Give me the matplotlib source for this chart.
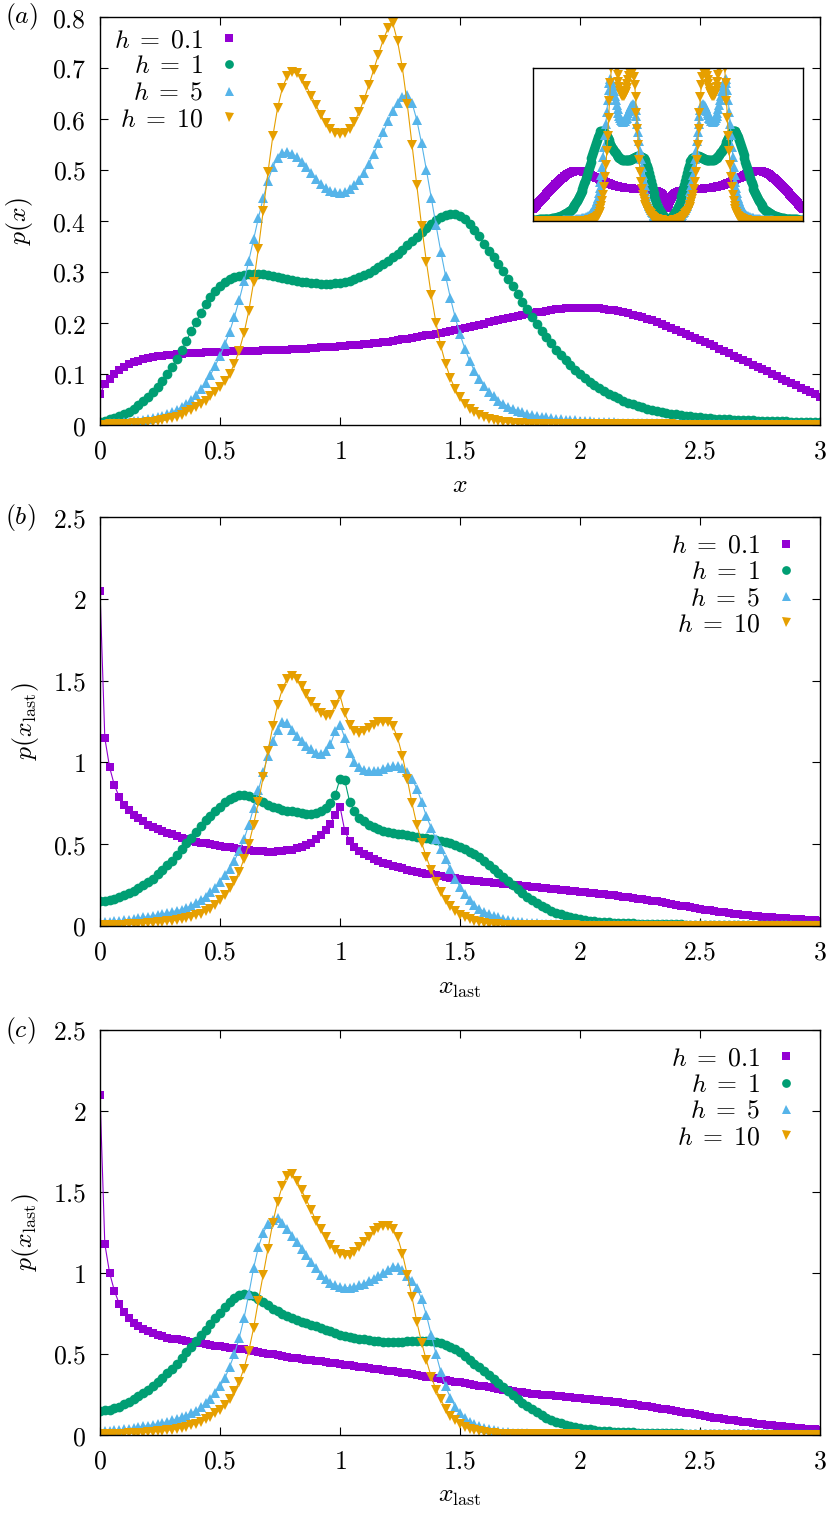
import numpy as np
import matplotlib
matplotlib.use('Agg')
import matplotlib.pyplot as plt
from matplotlib.lines import Line2D
from matplotlib.ticker import FuncFormatter, MultipleLocator

plt.rcParams['mathtext.fontset'] = 'cm'
plt.rcParams['font.family'] = 'DejaVu Serif'

# common x grid of the data files (step 0.02)
x = np.round(np.arange(151) * 0.02, 2)

labels = [r'$h\;=\;0.1$', r'$h\;=\;1$', r'$h\;=\;5$', r'$h\;=\;10$']
colors = ['#9400d3', '#009e73', '#56b4e9', '#e69f00']
markers = ['s', 'o', '^', 'v']
msizes = [6.3, 7.0, 7.2, 7.2]

# ---- panel (a): p(x)
pa_01 = [0.060, 0.080, 0.090, 0.100, 0.108, 0.114, 0.119, 0.123, 0.126, 0.129,
         0.131, 0.133, 0.135, 0.136, 0.137, 0.138, 0.139, 0.140, 0.141, 0.141,
         0.142, 0.142, 0.143, 0.143, 0.144, 0.144, 0.144, 0.145, 0.145, 0.145,
         0.145, 0.146, 0.146, 0.146, 0.147, 0.147, 0.147, 0.148, 0.148, 0.148,
         0.149, 0.149, 0.150, 0.150, 0.151, 0.151, 0.152, 0.152, 0.153, 0.153,
         0.154, 0.155, 0.156, 0.156, 0.157, 0.158, 0.159, 0.160, 0.161, 0.162,
         0.163, 0.165, 0.166, 0.168, 0.169, 0.171, 0.172, 0.174, 0.176, 0.177,
         0.179, 0.181, 0.183, 0.185, 0.187, 0.189, 0.191, 0.193, 0.195, 0.197,
         0.199, 0.201, 0.203, 0.205, 0.207, 0.209, 0.211, 0.213, 0.215, 0.217,
         0.219, 0.221, 0.222, 0.224, 0.225, 0.227, 0.228, 0.229, 0.229, 0.230,
         0.230, 0.230, 0.230, 0.229, 0.229, 0.228, 0.226, 0.225, 0.223, 0.221,
         0.219, 0.216, 0.214, 0.211, 0.208, 0.205, 0.202, 0.198, 0.195, 0.191,
         0.187, 0.183, 0.179, 0.175, 0.171, 0.167, 0.163, 0.158, 0.154, 0.150,
         0.145, 0.141, 0.136, 0.132, 0.127, 0.123, 0.118, 0.114, 0.109, 0.105,
         0.100, 0.096, 0.091, 0.087, 0.082, 0.078, 0.073, 0.069, 0.064, 0.060,
         0.055]
pa_1 = [0.005, 0.008, 0.011, 0.014, 0.017, 0.021, 0.026, 0.032, 0.039, 0.047,
        0.055, 0.064, 0.075, 0.087, 0.100, 0.114, 0.130, 0.147, 0.165, 0.184,
        0.202, 0.220, 0.237, 0.251, 0.263, 0.273, 0.280, 0.286, 0.290, 0.293,
        0.295, 0.296, 0.297, 0.297, 0.296, 0.295, 0.293, 0.291, 0.289, 0.287,
        0.285, 0.283, 0.281, 0.280, 0.279, 0.278, 0.277, 0.277, 0.277, 0.278,
        0.279, 0.281, 0.283, 0.286, 0.290, 0.294, 0.299, 0.304, 0.310, 0.316,
        0.322, 0.329, 0.336, 0.344, 0.352, 0.360, 0.369, 0.378, 0.387, 0.395,
        0.402, 0.408, 0.412, 0.414, 0.413, 0.410, 0.404, 0.395, 0.383, 0.370,
        0.355, 0.342, 0.329, 0.315, 0.301, 0.287, 0.272, 0.257, 0.242, 0.227,
        0.212, 0.198, 0.185, 0.172, 0.160, 0.148, 0.137, 0.127, 0.117, 0.108,
        0.100, 0.092, 0.085, 0.078, 0.072, 0.066, 0.061, 0.056, 0.052, 0.048,
        0.044, 0.041, 0.038, 0.035, 0.032, 0.030, 0.028, 0.026, 0.024, 0.022,
        0.021, 0.019, 0.018, 0.017, 0.016, 0.015, 0.014, 0.013, 0.012, 0.012,
        0.011, 0.011, 0.010, 0.010, 0.009, 0.009, 0.009, 0.008, 0.008, 0.008,
        0.007, 0.007, 0.007, 0.007, 0.006, 0.006, 0.006, 0.006, 0.006, 0.005,
        0.005]
pa_5 = [0.002, 0.002, 0.003, 0.003, 0.004, 0.005, 0.006, 0.007, 0.008, 0.010,
        0.011, 0.013, 0.015, 0.018, 0.021, 0.025, 0.029, 0.035, 0.041, 0.049,
        0.059, 0.070, 0.083, 0.098, 0.116, 0.136, 0.158, 0.183, 0.212, 0.245,
        0.282, 0.322, 0.364, 0.406, 0.445, 0.479, 0.506, 0.524, 0.533, 0.535,
        0.532, 0.525, 0.516, 0.505, 0.494, 0.483, 0.473, 0.465, 0.459, 0.456,
        0.455, 0.457, 0.462, 0.470, 0.481, 0.495, 0.512, 0.531, 0.552, 0.574,
        0.596, 0.616, 0.632, 0.644, 0.648, 0.632, 0.598, 0.552, 0.500, 0.446,
        0.392, 0.340, 0.292, 0.249, 0.211, 0.178, 0.150, 0.126, 0.106, 0.090,
        0.076, 0.065, 0.056, 0.048, 0.042, 0.036, 0.032, 0.028, 0.025, 0.022,
        0.020, 0.018, 0.016, 0.015, 0.013, 0.012, 0.011, 0.010, 0.009, 0.009,
        0.008, 0.007, 0.007, 0.006, 0.006, 0.005, 0.005, 0.005, 0.004, 0.004,
        0.004, 0.004, 0.003, 0.003, 0.003, 0.003, 0.003, 0.003, 0.002, 0.002,
        0.002, 0.002, 0.002, 0.002, 0.002, 0.002, 0.002, 0.002, 0.002, 0.002,
        0.002, 0.002, 0.002, 0.002, 0.002, 0.001, 0.001, 0.001, 0.001, 0.001,
        0.001, 0.001, 0.001, 0.001, 0.001, 0.001, 0.001, 0.001, 0.001, 0.001,
        0.001]
pa_10 = [0.000, 0.000, 0.001, 0.001, 0.001, 0.002, 0.002, 0.003, 0.003, 0.004,
         0.005, 0.006, 0.007, 0.009, 0.011, 0.013, 0.016, 0.020, 0.025, 0.030,
         0.035, 0.041, 0.048, 0.056, 0.065, 0.075, 0.086, 0.100, 0.120, 0.146,
         0.180, 0.224, 0.280, 0.346, 0.420, 0.496, 0.566, 0.622, 0.661, 0.684,
         0.692, 0.690, 0.679, 0.664, 0.646, 0.627, 0.608, 0.592, 0.580, 0.573,
         0.570, 0.572, 0.580, 0.594, 0.614, 0.638, 0.666, 0.696, 0.726, 0.755,
         0.778, 0.788, 0.752, 0.700, 0.630, 0.550, 0.470, 0.390, 0.320, 0.255,
         0.200, 0.155, 0.120, 0.092, 0.070, 0.054, 0.042, 0.032, 0.025, 0.020,
         0.015, 0.012, 0.010, 0.008, 0.006, 0.005, 0.004, 0.003, 0.003, 0.002,
         0.002, 0.002, 0.002, 0.002, 0.002, 0.002, 0.002, 0.002, 0.002, 0.002,
         0.001, 0.001, 0.001, 0.001, 0.001, 0.001, 0.001, 0.001, 0.001, 0.001,
         0.001, 0.001, 0.001, 0.001, 0.001, 0.001, 0.001, 0.001, 0.001, 0.001,
         0.000, 0.000, 0.000, 0.000, 0.000, 0.000, 0.000, 0.000, 0.000, 0.000,
         0.000, 0.000, 0.000, 0.000, 0.000, 0.000, 0.000, 0.000, 0.000, 0.000,
         0.000, 0.000, 0.000, 0.000, 0.000, 0.000, 0.000, 0.000, 0.000, 0.000,
         0.000]

# ---- panel (b): p(x_last)
pb_01 = [2.05, 1.15, 0.97, 0.86, 0.79, 0.74, 0.71, 0.68, 0.66, 0.64,
         0.62, 0.605, 0.59, 0.58, 0.57, 0.56, 0.55, 0.54, 0.53, 0.52,
         0.515, 0.51, 0.505, 0.50, 0.495, 0.49, 0.485, 0.48, 0.475, 0.47,
         0.467, 0.464, 0.461, 0.458, 0.456, 0.455, 0.455, 0.456, 0.458, 0.462,
         0.467, 0.474, 0.483, 0.495, 0.51, 0.53, 0.555, 0.585, 0.625, 0.68,
         0.73, 0.58, 0.52, 0.485, 0.46, 0.44, 0.425, 0.41, 0.398, 0.387,
         0.377, 0.368, 0.36, 0.352, 0.345, 0.338, 0.332, 0.326, 0.32, 0.315,
         0.31, 0.305, 0.30, 0.296, 0.292, 0.288, 0.284, 0.28, 0.276, 0.273,
         0.27, 0.267, 0.264, 0.261, 0.258, 0.255, 0.252, 0.249, 0.246, 0.243,
         0.24, 0.237, 0.234, 0.231, 0.228, 0.225, 0.222, 0.219, 0.216, 0.213,
         0.21, 0.207, 0.204, 0.201, 0.198, 0.195, 0.192, 0.188, 0.184, 0.18,
         0.176, 0.172, 0.168, 0.164, 0.159, 0.155, 0.15, 0.145, 0.14, 0.135,
         0.13, 0.125, 0.12, 0.115, 0.11, 0.105, 0.10, 0.096, 0.092, 0.088,
         0.084, 0.08, 0.076, 0.073, 0.07, 0.067, 0.064, 0.061, 0.058, 0.055,
         0.052, 0.05, 0.048, 0.046, 0.044, 0.042, 0.04, 0.038, 0.036, 0.034,
         0.032]
pb_1 = [0.15, 0.152, 0.157, 0.165, 0.175, 0.187, 0.20, 0.215, 0.23, 0.25,
        0.27, 0.29, 0.315, 0.34, 0.37, 0.40, 0.435, 0.47, 0.505, 0.54,
        0.575, 0.61, 0.645, 0.675, 0.705, 0.73, 0.755, 0.775, 0.79, 0.80,
        0.80, 0.795, 0.785, 0.77, 0.755, 0.74, 0.73, 0.72, 0.71, 0.705,
        0.70, 0.695, 0.69, 0.685, 0.685, 0.69, 0.70, 0.72, 0.75, 0.80,
        0.90, 0.89, 0.76, 0.70, 0.66, 0.64, 0.62, 0.605, 0.59, 0.58,
        0.575, 0.57, 0.565, 0.56, 0.555, 0.55, 0.545, 0.54, 0.535, 0.53,
        0.525, 0.52, 0.515, 0.508, 0.498, 0.485, 0.47, 0.455, 0.44, 0.42,
        0.40, 0.375, 0.35, 0.325, 0.30, 0.275, 0.25, 0.225, 0.20, 0.18,
        0.16, 0.14, 0.122, 0.107, 0.094, 0.082, 0.072, 0.063, 0.055, 0.048,
        0.042, 0.037, 0.033, 0.030, 0.027, 0.025, 0.023, 0.021, 0.019, 0.018,
        0.017, 0.016, 0.015, 0.014, 0.013, 0.012, 0.012, 0.011, 0.011, 0.010,
        0.010, 0.010, 0.009, 0.009, 0.009, 0.008, 0.008, 0.008, 0.008, 0.007,
        0.007, 0.007, 0.007, 0.007, 0.007, 0.006, 0.006, 0.006, 0.006, 0.006,
        0.006, 0.006, 0.006, 0.006, 0.006, 0.005, 0.005, 0.005, 0.005, 0.005,
        0.005]
pb_5 = [0.02, 0.022, 0.025, 0.028, 0.031, 0.035, 0.039, 0.043, 0.047, 0.052,
        0.057, 0.062, 0.068, 0.074, 0.08, 0.087, 0.094, 0.10, 0.11, 0.125,
        0.14, 0.16, 0.18, 0.205, 0.235, 0.27, 0.31, 0.35, 0.40, 0.46,
        0.53, 0.62, 0.72, 0.83, 0.94, 1.04, 1.13, 1.20, 1.245, 1.24,
        1.20, 1.16, 1.13, 1.10, 1.08, 1.06, 1.05, 1.07, 1.11, 1.19,
        1.23, 1.15, 1.06, 1.00, 0.97, 0.955, 0.945, 0.945, 0.95, 0.96,
        0.97, 0.975, 0.975, 0.965, 0.94, 0.90, 0.84, 0.76, 0.67, 0.60,
        0.53, 0.47, 0.41, 0.35, 0.29, 0.24, 0.195, 0.16, 0.13, 0.105,
        0.088, 0.074, 0.062, 0.052, 0.044, 0.037, 0.032, 0.027, 0.023, 0.02,
        0.018, 0.016, 0.014, 0.013, 0.012, 0.011, 0.010, 0.009, 0.009, 0.008,
        0.008, 0.007, 0.007, 0.007, 0.006, 0.006, 0.006, 0.006, 0.005, 0.005,
        0.005, 0.005, 0.005, 0.005, 0.005, 0.005, 0.005, 0.005, 0.005, 0.005,
        0.005, 0.005, 0.005, 0.005, 0.005, 0.004, 0.004, 0.004, 0.004, 0.004,
        0.004, 0.004, 0.004, 0.004, 0.004, 0.004, 0.004, 0.004, 0.004, 0.004,
        0.004, 0.004, 0.004, 0.004, 0.004, 0.003, 0.003, 0.003, 0.003, 0.003,
        0.003]
pb_10 = [0.005, 0.005, 0.006, 0.007, 0.008, 0.009, 0.010, 0.011, 0.013, 0.015,
         0.017, 0.019, 0.022, 0.025, 0.029, 0.033, 0.037, 0.042, 0.048, 0.056,
         0.065, 0.076, 0.09, 0.105, 0.13, 0.16, 0.19, 0.23, 0.275, 0.33,
         0.41, 0.50, 0.62, 0.76, 0.91, 1.07, 1.22, 1.35, 1.45, 1.51,
         1.53, 1.51, 1.47, 1.42, 1.37, 1.33, 1.30, 1.285, 1.29, 1.35,
         1.41, 1.30, 1.23, 1.19, 1.18, 1.19, 1.21, 1.23, 1.245, 1.25,
         1.245, 1.225, 1.15, 1.04, 0.90, 0.75, 0.62, 0.51, 0.42, 0.34,
         0.27, 0.21, 0.16, 0.12, 0.09, 0.068, 0.052, 0.04, 0.031, 0.024,
         0.019, 0.015, 0.012, 0.010, 0.008, 0.007, 0.006, 0.005, 0.005, 0.004,
         0.004, 0.004, 0.004, 0.004, 0.004, 0.004, 0.004, 0.004, 0.004, 0.004,
         0.003, 0.003, 0.003, 0.003, 0.003, 0.003, 0.003, 0.003, 0.003, 0.003,
         0.003, 0.003, 0.003, 0.003, 0.003, 0.003, 0.003, 0.003, 0.003, 0.003,
         0.002, 0.002, 0.002, 0.002, 0.002, 0.002, 0.002, 0.002, 0.002, 0.002,
         0.002, 0.002, 0.002, 0.002, 0.002, 0.002, 0.002, 0.002, 0.002, 0.002,
         0.002, 0.002, 0.002, 0.002, 0.002, 0.002, 0.002, 0.002, 0.002, 0.002,
         0.002]

# ---- panel (c): p(x_last)
pc_01 = [2.10, 1.18, 1.00, 0.89, 0.81, 0.76, 0.72, 0.69, 0.67, 0.655,
         0.64, 0.63, 0.62, 0.61, 0.60, 0.595, 0.59, 0.585, 0.58, 0.575,
         0.57, 0.565, 0.56, 0.555, 0.55, 0.547, 0.544, 0.54, 0.536, 0.532,
         0.528, 0.523, 0.518, 0.513, 0.508, 0.503, 0.498, 0.493, 0.488, 0.483,
         0.478, 0.474, 0.47, 0.466, 0.462, 0.458, 0.454, 0.45, 0.446, 0.442,
         0.438, 0.434, 0.43, 0.426, 0.422, 0.418, 0.414, 0.41, 0.406, 0.402,
         0.398, 0.394, 0.39, 0.385, 0.38, 0.375, 0.37, 0.365, 0.36, 0.355,
         0.35, 0.345, 0.34, 0.335, 0.33, 0.325, 0.32, 0.315, 0.31, 0.305,
         0.30, 0.295, 0.29, 0.285, 0.28, 0.276, 0.272, 0.268, 0.264, 0.26,
         0.256, 0.253, 0.25, 0.247, 0.244, 0.241, 0.238, 0.235, 0.232, 0.229,
         0.226, 0.223, 0.22, 0.217, 0.214, 0.211, 0.208, 0.205, 0.201, 0.197,
         0.193, 0.189, 0.185, 0.181, 0.177, 0.173, 0.168, 0.163, 0.158, 0.153,
         0.148, 0.143, 0.138, 0.133, 0.128, 0.123, 0.118, 0.113, 0.108, 0.103,
         0.098, 0.094, 0.09, 0.086, 0.082, 0.078, 0.074, 0.07, 0.067, 0.064,
         0.061, 0.058, 0.055, 0.052, 0.049, 0.046, 0.043, 0.04, 0.037, 0.034,
         0.031]
pc_1 = [0.15, 0.152, 0.157, 0.165, 0.175, 0.19, 0.205, 0.22, 0.24, 0.26,
        0.28, 0.30, 0.325, 0.35, 0.38, 0.41, 0.44, 0.475, 0.51, 0.545,
        0.58, 0.615, 0.65, 0.685, 0.72, 0.755, 0.79, 0.82, 0.845, 0.865,
        0.87, 0.865, 0.855, 0.84, 0.82, 0.80, 0.78, 0.765, 0.75, 0.735,
        0.72, 0.71, 0.70, 0.69, 0.68, 0.67, 0.66, 0.65, 0.64, 0.63,
        0.62, 0.613, 0.606, 0.60, 0.595, 0.59, 0.585, 0.58, 0.578, 0.576,
        0.575, 0.575, 0.575, 0.576, 0.578, 0.58, 0.582, 0.583, 0.582, 0.58,
        0.575, 0.568, 0.558, 0.545, 0.53, 0.51, 0.49, 0.465, 0.44, 0.42,
        0.395, 0.37, 0.345, 0.32, 0.295, 0.27, 0.245, 0.22, 0.20, 0.18,
        0.16, 0.14, 0.123, 0.108, 0.095, 0.083, 0.073, 0.064, 0.056, 0.049,
        0.043, 0.038, 0.034, 0.030, 0.027, 0.025, 0.023, 0.021, 0.019, 0.018,
        0.017, 0.016, 0.015, 0.014, 0.013, 0.012, 0.012, 0.011, 0.011, 0.010,
        0.010, 0.010, 0.009, 0.009, 0.009, 0.008, 0.008, 0.008, 0.008, 0.007,
        0.007, 0.007, 0.007, 0.007, 0.007, 0.006, 0.006, 0.006, 0.006, 0.006,
        0.006, 0.006, 0.006, 0.006, 0.006, 0.005, 0.005, 0.005, 0.005, 0.005,
        0.005]
pc_5 = [0.02, 0.022, 0.025, 0.028, 0.031, 0.035, 0.039, 0.043, 0.048, 0.053,
        0.058, 0.063, 0.069, 0.075, 0.082, 0.09, 0.10, 0.11, 0.12, 0.135,
        0.15, 0.17, 0.195, 0.225, 0.26, 0.30, 0.35, 0.42, 0.50, 0.60,
        0.72, 0.87, 1.03, 1.16, 1.25, 1.30, 1.33, 1.34, 1.31, 1.27,
        1.23, 1.19, 1.15, 1.11, 1.07, 1.03, 0.99, 0.96, 0.94, 0.925,
        0.915, 0.91, 0.91, 0.915, 0.925, 0.935, 0.95, 0.965, 0.98, 1.00,
        1.02, 1.035, 1.04, 1.02, 0.98, 0.95, 0.91, 0.84, 0.74, 0.62,
        0.50, 0.39, 0.30, 0.23, 0.175, 0.135, 0.105, 0.083, 0.066, 0.053,
        0.043, 0.035, 0.029, 0.024, 0.02, 0.017, 0.015, 0.013, 0.011, 0.010,
        0.009, 0.009, 0.008, 0.008, 0.007, 0.007, 0.007, 0.006, 0.006, 0.006,
        0.006, 0.006, 0.006, 0.006, 0.006, 0.006, 0.006, 0.006, 0.006, 0.006,
        0.005, 0.005, 0.005, 0.005, 0.005, 0.005, 0.005, 0.005, 0.005, 0.005,
        0.005, 0.005, 0.005, 0.005, 0.005, 0.005, 0.005, 0.005, 0.005, 0.005,
        0.004, 0.004, 0.004, 0.004, 0.004, 0.004, 0.004, 0.004, 0.004, 0.004,
        0.003, 0.003, 0.003, 0.003, 0.003, 0.003, 0.003, 0.003, 0.003, 0.003,
        0.003]
pc_10 = [0.005, 0.005, 0.006, 0.007, 0.008, 0.009, 0.010, 0.011, 0.013, 0.015,
         0.017, 0.019, 0.022, 0.025, 0.029, 0.033, 0.038, 0.044, 0.051, 0.06,
         0.07, 0.082, 0.096, 0.113, 0.133, 0.157, 0.186, 0.222, 0.27, 0.33,
         0.41, 0.52, 0.66, 0.83, 0.99, 1.15, 1.31, 1.44, 1.54, 1.60,
         1.61, 1.57, 1.51, 1.45, 1.39, 1.32, 1.27, 1.22, 1.17, 1.14,
         1.12, 1.11, 1.11, 1.13, 1.16, 1.19, 1.22, 1.26, 1.28, 1.29,
         1.29, 1.27, 1.22, 1.12, 0.99, 0.85, 0.70, 0.57, 0.46, 0.36,
         0.28, 0.22, 0.16, 0.12, 0.09, 0.068, 0.05, 0.038, 0.029, 0.022,
         0.017, 0.013, 0.011, 0.009, 0.007, 0.006, 0.005, 0.005, 0.004, 0.004,
         0.004, 0.004, 0.004, 0.004, 0.004, 0.004, 0.004, 0.004, 0.004, 0.004,
         0.003, 0.003, 0.003, 0.003, 0.003, 0.003, 0.003, 0.003, 0.003, 0.003,
         0.003, 0.003, 0.003, 0.003, 0.003, 0.003, 0.003, 0.003, 0.003, 0.003,
         0.002, 0.002, 0.002, 0.002, 0.002, 0.002, 0.002, 0.002, 0.002, 0.002,
         0.002, 0.002, 0.002, 0.002, 0.002, 0.002, 0.002, 0.002, 0.002, 0.002,
         0.002, 0.002, 0.002, 0.002, 0.002, 0.002, 0.002, 0.002, 0.002, 0.002,
         0.002]

FS = 18.5
mfmt = FuncFormatter(lambda v, p: '$%g$' % round(v, 3))


def draw_curves(ax, series):
    for (xs, ys), c, m, ms in zip(series, colors, markers, msizes):
        ax.plot(xs, ys, color=c, lw=0.8, marker=m, ms=ms, mew=0)


def style_axes(ax, ymax, ystep):
    ax.set_xlim(0, 3)
    ax.set_ylim(0, ymax)
    ax.xaxis.set_major_locator(MultipleLocator(0.5))
    ax.yaxis.set_major_locator(MultipleLocator(ystep))
    ax.xaxis.set_major_formatter(mfmt)
    ax.yaxis.set_major_formatter(mfmt)
    ax.tick_params(direction='in', length=6, width=0.8, top=True, right=True,
                   labelsize=FS)
    ax.tick_params(axis='x', pad=10)
    ax.tick_params(axis='y', pad=10)
    for s in ax.spines.values():
        s.set_linewidth(1.0)


def add_legend(ax, anchor):
    handles = [Line2D([], [], ls='none', marker=m, color=c, ms=ms * 0.9, mew=0)
               for c, m, ms in zip(colors, markers, msizes)]
    ax.legend(handles, labels, loc='upper right', bbox_to_anchor=anchor,
              frameon=False, markerfirst=False, fontsize=FS, handlelength=0.8,
              handletextpad=0.6, labelspacing=0.05, borderpad=0, borderaxespad=0)


def label_panel(ax, tag, xlab, ylab, xl_y, yl_x):
    ax.set_xlabel(xlab, fontsize=FS)
    ax.xaxis.set_label_coords(0.5, xl_y)
    ax.set_ylabel(ylab, fontsize=FS)
    ax.yaxis.set_label_coords(yl_x, 0.5)
    ax.text(-0.132, 1.0, tag, transform=ax.transAxes, fontsize=FS,
            ha='left', va='center')


fig = plt.figure(figsize=(8.28, 15.13), dpi=100)
L, W = 100 / 828, 720 / 828

# (a)
ax1 = fig.add_axes([L, 1 - 425 / 1513, W, 408 / 1513])
draw_curves(ax1, [(x, pa_01), (x, pa_1), (x, pa_5), (x, pa_10)])
style_axes(ax1, 0.8, 0.1)
label_panel(ax1, '$(a)$', '$x$', '$p(x)$', -0.115, -0.09)
add_legend(ax1, (0.193, 0.975))

# inset: p(x) mirrored onto [-3, 3]
axi = fig.add_axes([533 / 828, 1 - 221 / 1513, 270 / 828, 153 / 1513])
mirrored = []
for y in [pa_01, pa_1, pa_5, pa_10]:
    ya = np.array(y)
    mirrored.append((np.concatenate([-x[::-1], x]), np.concatenate([ya[::-1], ya])))
draw_curves(axi, mirrored)
axi.set_xlim(-3, 3)
axi.set_ylim(0, 0.7)
axi.set_xticks([])
axi.set_yticks([])
for s in axi.spines.values():
    s.set_linewidth(1.0)

# (b)
ax2 = fig.add_axes([L, 1 - 926 / 1513, W, 409 / 1513])
draw_curves(ax2, [(x, pb_01), (x, pb_1), (x, pb_5), (x, pb_10)])
style_axes(ax2, 2.5, 0.5)
label_panel(ax2, '$(b)$', r'$x_{\rm last}$', r'$p(x_{\rm last})$', -0.12, -0.082)
add_legend(ax2, (0.967, 0.962))

# (c)
ax3 = fig.add_axes([L, 1 - 1435 / 1513, W, 405 / 1513])
draw_curves(ax3, [(x, pc_01), (x, pc_1), (x, pc_5), (x, pc_10)])
style_axes(ax3, 2.5, 0.5)
label_panel(ax3, '$(c)$', r'$x_{\rm last}$', r'$p(x_{\rm last})$', -0.118, -0.082)
add_legend(ax3, (0.967, 0.962))

fig.savefig('out.png', dpi=100)
